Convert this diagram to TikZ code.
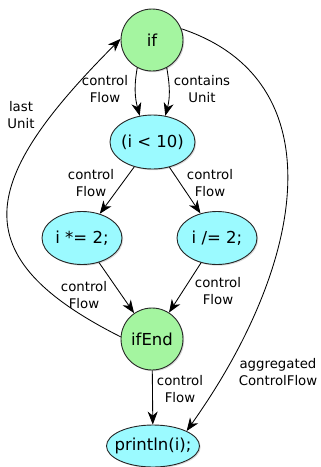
\documentclass[tikz,border=0pt]{standalone}
\usepackage{fontspec}
\setmainfont{DejaVu Sans}
\usetikzlibrary{arrows.meta,shadows,shapes.geometric}

\definecolor{unitgreen}{RGB}{164,245,160}
\definecolor{stmtcyan}{RGB}{155,250,255}

\begin{document}
\begin{tikzpicture}[x=1pt,y=1pt,
  nodebase/.style={draw=black!85, line width=0.9pt,
    font=\fontsize{16.5}{20}\selectfont,
    drop shadow={shadow xshift=1.2pt, shadow yshift=-1.2pt, opacity=0.3}},
  unitnode/.style={nodebase, circle, fill=unitgreen, inner sep=0pt, minimum size=62pt},
  stmtnode/.style={nodebase, ellipse, fill=stmtcyan, inner xsep=-12pt, inner ysep=0pt},
  lbl/.style={align=center, inner sep=0pt, font=\fontsize{13.3}{17}\selectfont},
  flow/.style={line width=0.85pt, -{Stealth[length=13pt,width=10pt,inset=4pt]}}]

\useasboundingbox (0,0) rectangle (321,-467);

% statements and units
\node[unitnode] (if) at (152,-40) {if};
\node[stmtnode, minimum width=85pt, minimum height=54pt] (cond) at (152.5,-142) {(i < 10)};
\node[stmtnode, minimum width=80pt, minimum height=53pt] (mul) at (82,-238) {i *= 2;};
\node[stmtnode, minimum width=80pt, minimum height=53pt] (div) at (217,-238) {i /= 2;};
\node[unitnode] (ifend) at (152,-339) {ifEnd};
\node[stmtnode, minimum width=93pt, minimum height=42pt] (print) at (153,-446) {println(i);};

% edges
\draw[flow] (if.-118) to[out=-100, in=105] (cond.116);
\draw[flow] (if.-62) to[out=-80, in=75] (cond.64);
\draw[flow] (cond) -- (mul);
\draw[flow] (cond) -- (div);
\draw[flow] (mul) -- (ifend);
\draw[flow] (div) -- (ifend);
\draw[flow] (ifend) -- (print);
\draw[flow] (ifend.176) .. controls (-40,-256) and (-20,-180) .. (if.178);
\draw[flow] (if.21) .. controls (335,-80) and (308,-260) .. (print.24);

% edge labels
\node[lbl] (l1) at (105,-89) {control\\Flow};
\node[lbl] (l2) at (202,-89) {contains\\Unit};
\node[lbl] (l3) at (91,-183) {control\\Flow};
\node[lbl] (l4) at (210,-183) {control\\Flow};
\node[lbl] (l5) at (84,-295) {control\\Flow};
\node[lbl] (l6) at (218,-291) {control\\Flow};
\node[lbl] (l7) at (180,-389) {control\\Flow};
\node[lbl] (l8) at (278,-372) {aggregated\\ControlFlow};
\node[lbl] (l9) at (21,-115) {last\\Unit};
\end{tikzpicture}
\end{document}
